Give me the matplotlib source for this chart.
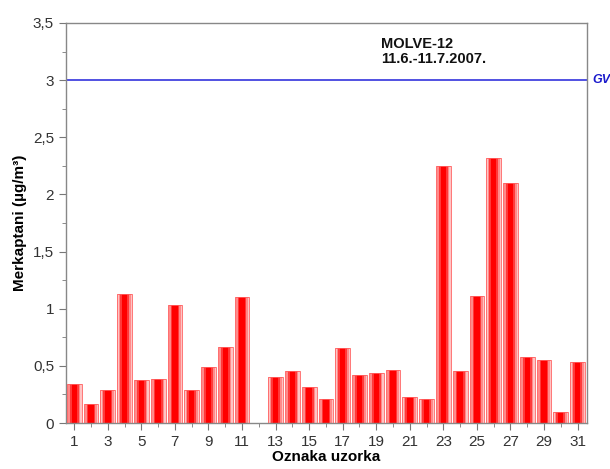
import matplotlib
matplotlib.use("Agg")
import matplotlib.pyplot as plt
from matplotlib.ticker import MultipleLocator

plt.rcParams['font.family'] = ['Liberation Sans', 'DejaVu Sans']

samples = list(range(1, 32))
values = [0.34, 0.17, 0.29, 1.13, 0.375, 0.385, 1.03, 0.29, 0.49, 0.665, 1.10,
          0.0, 0.405, 0.455, 0.315, 0.21, 0.66, 0.42, 0.435, 0.46, 0.225, 0.21,
          2.25, 0.455, 1.11, 2.32, 2.10, 0.575, 0.55, 0.10, 0.535]
gv_value = 3.0
xtick_labels = [str(i) for i in range(1, 32, 2)]
title_text = "MOLVE-12\n11.6.-11.7.2007."

fig = plt.figure(figsize=(6.1, 4.69), dpi=100)
ax = fig.add_axes([0.108, 0.098, 0.854, 0.853])

# simulated gradient bars: layered bars from pale edges to red centre
layers = [(0.88, '#ffc4c4'), (0.72, '#ff8a8a'), (0.52, '#ff3a3a'), (0.32, '#ff0000')]
for w, c in layers:
    ax.bar(samples, values, width=w, color=c, linewidth=0, zorder=2)
ax.bar(samples, values, width=0.88, fill=False, edgecolor='#ff6060', linewidth=0.6, zorder=3)

ax.axhline(gv_value, color='#3333dd', linewidth=1.2, zorder=1)
ax.text(1.01, gv_value, 'GV', transform=ax.get_yaxis_transform(), color='#1a1acc',
        fontsize=9, fontweight='bold', fontstyle='italic', va='center', ha='left',
        clip_on=False)

ax.text(0.605, 0.965, title_text, transform=ax.transAxes, fontsize=10.5,
        fontweight='bold', va='top', ha='left', color='#111111', linespacing=1.1)

ax.set_xlim(0.5, 31.55)
ax.set_ylim(0, 3.5)
ax.set_xticks(range(1, 32, 2))
ax.set_xticklabels(xtick_labels)
ax.xaxis.set_minor_locator(MultipleLocator(1))
ax.yaxis.set_major_locator(MultipleLocator(0.5))
ax.yaxis.set_minor_locator(MultipleLocator(0.25))
ax.yaxis.set_major_formatter(plt.FuncFormatter(lambda v, p: ('%g' % v).replace('.', ',')))

for s in ax.spines.values():
    s.set_color('#888888')
    s.set_linewidth(1.0)
ax.tick_params(axis='both', which='both', direction='out', color='#777777')
ax.tick_params(axis='both', which='major', length=5, labelsize=11, labelcolor='#333333')
ax.tick_params(axis='both', which='minor', length=3)

ax.set_xlabel('Oznaka uzorka', fontsize=11, fontweight='bold', labelpad=1)
ax.set_ylabel('Merkaptani (µg/m³)', fontsize=11, fontweight='bold', labelpad=4)

fig.savefig('out.png', dpi=100)
